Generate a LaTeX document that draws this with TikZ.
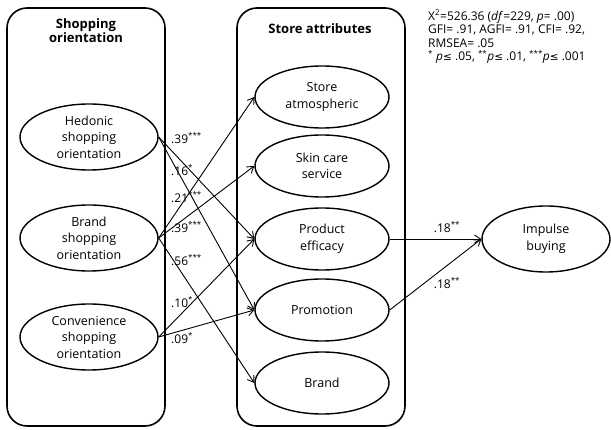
\documentclass[tikz,border=0pt]{standalone}
\usepackage{fontspec}
\setmainfont{Open Sans}
\newfontfamily\symfont{DejaVu Sans}
\usetikzlibrary{shapes.geometric, arrows.meta}

\tikzset{
  factor/.style={draw, ellipse, line width=1.4pt, minimum width=134pt, minimum height=62pt,
    inner sep=0pt, align=center, font=\fontsize{12.5}{16.5}\selectfont},
  group/.style={line width=1.6pt, rounded corners=20pt},
  grouptitle/.style={align=center, inner sep=0pt, font=\bfseries\fontsize{13}{12.5}\selectfont},
  path/.style={-{Straight Barb[length=6pt, width=8pt]}, line width=0.9pt},
  coef/.style={anchor=west, inner sep=0pt, font=\fontsize{12}{14}\selectfont},
}
\newcommand{\sig}[1]{\textsuperscript{#1}}
\newcommand{\lesym}{{\symfont\fontsize{10.5}{11}\selectfont ≤}}

\begin{document}
\begin{tikzpicture}[x=1pt, y=-1pt]
  \useasboundingbox (0,0) rectangle (611,430);
  %\draw[lightgray] (0,0) grid[step=50] (611,430);
  \draw[group] (7,8) rectangle (165,426);
  \draw[group] (237,8) rectangle (405,426);
  \node[grouptitle] (orienttitle) at (86,31) {Shopping\\orientation};
  \node[grouptitle] (attrtitle) at (320,29) {Store attributes};

  % shopping orientation
  \node[factor, minimum width=138pt, minimum height=66pt] (hedonic) at (89,137) {Hedonic\\shopping\\orientation};
  \node[factor, minimum width=138pt, minimum height=66pt] (brandso) at (89,238) {Brand\\shopping\\orientation};
  \node[factor, minimum width=138pt, minimum height=66pt] (conv) at (89,337) {Convenience\\shopping\\orientation};

  % store attributes
  \node[factor] (atmos) at (322,97) {Store\\atmospheric};
  \node[factor] (skin) at (322,166) {Skin care\\service};
  \node[factor] (efficacy) at (322,239) {Product\\efficacy};
  \node[factor] (promo) at (322,310) {Promotion};
  \node[factor] (brand) at (322,383) {Brand};
  \node[factor, minimum width=128pt, minimum height=66pt] (impulse) at (546,239) {Impulse\\buying};

  \draw[path] (hedonic.east) -- (efficacy.west);
  \draw[path] (hedonic.east) -- (promo.west);
  \draw[path] (brandso.east) -- (atmos.west);
  \draw[path] (brandso.east) -- (skin.west);
  \draw[path] (brandso.east) -- (brand.west);
  \draw[path] (conv.east) -- (efficacy.west);
  \draw[path] (conv.east) -- (promo.west);
  \draw[path] (efficacy.east) -- (impulse.west);
  \draw[path] (promo.east) -- (impulse.west);

  \node[coef] (c1) at (171,138) {.39\sig{***}};
  \node[coef] (c2) at (171,170) {.16\sig{*}};
  \node[coef] (c3) at (171,197) {.21\sig{***}};
  \node[coef] (c4) at (171,227) {.39\sig{***}};
  \node[coef] (c5) at (171,260) {.56\sig{***}};
  \node[coef] (c6) at (171,302) {.10\sig{*}};
  \node[coef] (c7) at (171,338) {.09\sig{*}};
  \node[coef, anchor=center] (c8) at (447,227) {.18\sig{**}};
  \node[coef, anchor=center] (c9) at (447,283) {.18\sig{**}};

  % fit indices
  \node[anchor=north west, inner sep=0pt, align=left, font=\fontsize{12}{13.5}\selectfont] (fit) at (428,10)
    {X\sig{2}=526.36 (\textit{df}=229, \textit{p}= .00)\\
     GFI= .91, AGFI= .91, CFI= .92,\\
     RMSEA= .05\\
     \sig{*} \textit{p}\lesym{} .05, \sig{**}\textit{p}\lesym{} .01, \sig{***}\textit{p}\lesym{} .001};
\end{tikzpicture}
\end{document}
